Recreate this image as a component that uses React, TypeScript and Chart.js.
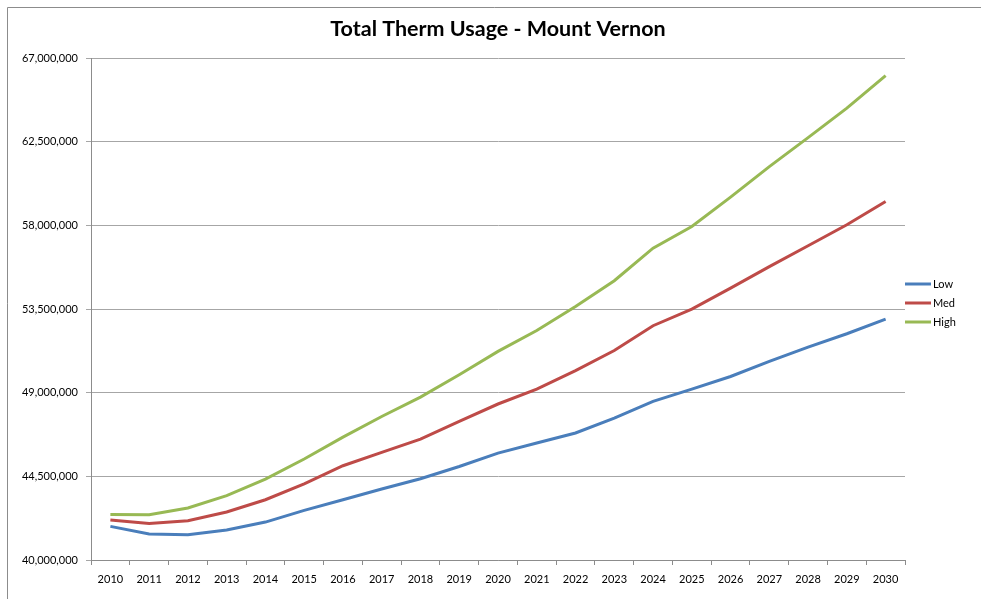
import React, { useEffect, useRef } from "react";
import { Chart, registerables } from "chart.js";

Chart.register(...registerables);

const years = [
  "2010", "2011", "2012", "2013", "2014", "2015", "2016", "2017", "2018", "2019", "2020",
  "2021", "2022", "2023", "2024", "2025", "2026", "2027", "2028", "2029", "2030",
];

const lowValues = [
  41810000, 41400000, 41360000, 41610000, 42040000, 42670000, 43240000, 43820000, 44370000,
  45030000, 45750000, 46290000, 46830000, 47630000, 48530000, 49190000, 49870000, 50680000,
  51450000, 52170000, 52960000,
];
const medValues = [
  42150000, 41970000, 42110000, 42580000, 43240000, 44100000, 45070000, 45790000, 46500000,
  47450000, 48390000, 49190000, 50190000, 51270000, 52600000, 53490000, 54620000, 55780000,
  56900000, 58030000, 59280000,
];
const highValues = [
  42450000, 42440000, 42800000, 43460000, 44350000, 45430000, 46610000, 47720000, 48760000,
  49960000, 51220000, 52340000, 53630000, 55020000, 56770000, 57940000, 59520000, 61160000,
  62720000, 64300000, 66050000,
];

const seriesNames = ["Low", "Med", "High"];
const seriesColors = ["#4a7ebb", "#be4b48", "#98b954"];
const chartTitle = "Total Therm Usage - Mount Vernon";

const yMin = 40000000;
const yMax = 67000000;
const yStep = 4500000;

const FONT = "Lato, 'Open Sans', sans-serif";

const frameTitleLegend = {
  id: "frameTitleLegend",
  beforeDraw(chart: any) {
    const ctx = chart.ctx;
    ctx.save();
    ctx.strokeStyle = "#8c8c8c";
    ctx.lineWidth = 1;
    ctx.beginPath();
    ctx.moveTo(7.5, chart.height);
    ctx.lineTo(7.5, 7.5);
    ctx.lineTo(chart.width, 7.5);
    ctx.stroke();
    ctx.restore();
  },
  afterDraw(chart: any) {
    const ctx = chart.ctx;
    const area = chart.chartArea;
    ctx.save();
    // title
    ctx.font = `bold 21.5px ${FONT}`;
    ctx.fillStyle = "#000";
    ctx.textAlign = "center";
    ctx.textBaseline = "middle";
    ctx.fillText(chartTitle, 498, 29);
    // legend
    ctx.font = `11px ${FONT}`;
    ctx.textAlign = "left";
    const x0 = area.right;
    const yStart = 284;
    chart.data.datasets.forEach((ds: any, i: number) => {
      const y = yStart + i * 19;
      ctx.strokeStyle = ds.borderColor;
      ctx.lineWidth = 3;
      ctx.beginPath();
      ctx.moveTo(x0, y);
      ctx.lineTo(x0 + 26, y);
      ctx.stroke();
      ctx.fillStyle = "#000";
      ctx.fillText(ds.label, x0 + 28, y + 0.5);
    });
    ctx.restore();
  },
};

export default function App() {
  const canvasRef = useRef<HTMLCanvasElement | null>(null);

  useEffect(() => {
    if (!canvasRef.current) return;
    const values = [lowValues, medValues, highValues];
    const chart = new Chart(canvasRef.current, {
      type: "line",
      data: {
        labels: years,
        datasets: values.map((v, i) => ({
          label: seriesNames[i],
          data: v,
          borderColor: seriesColors[i],
          backgroundColor: seriesColors[i],
          borderWidth: 3,
          pointRadius: 0,
          tension: 0,
          fill: false,
        })),
      },
      options: {
        animation: false,
        responsive: false,
        maintainAspectRatio: false,
        layout: { padding: { left: 0, right: 76, top: 58, bottom: 0 } },
        plugins: {
          legend: { display: false },
          tooltip: { enabled: false },
          title: { display: false },
        },
        scales: {
          x: {
            type: "category",
            offset: true,
            grid: {
              offset: true,
              drawOnChartArea: false,
              drawTicks: true,
              tickLength: 5,
              color: "#8c8c8c",
            },
            border: { color: "#8c8c8c", width: 1 },
            ticks: {
              color: "#000",
              font: { family: FONT, size: 11 },
              padding: 8,
              maxRotation: 0,
              autoSkip: false,
            },
            afterFit(scale: any) {
              scale.height = 39;
            },
          },
          y: {
            min: yMin,
            max: yMax,
            grid: {
              color: "#a6a6a6",
              tickLength: 5,
              drawTicks: true,
            },
            border: { color: "#8c8c8c", width: 1 },
            ticks: {
              stepSize: yStep,
              color: "#000",
              font: { family: FONT, size: 11 },
              padding: 8,
              callback: (v: any) => Number(v).toLocaleString("en-US"),
            },
            afterFit(scale: any) {
              scale.width = 91;
            },
          },
        },
      },
      plugins: [frameTitleLegend],
    });
    return () => chart.destroy();
  }, []);

  return (
    <div style={{ position: "absolute", left: 0, top: 0, width: 981, height: 599, background: "#fff" }}>
      <canvas ref={canvasRef} width={981} height={599} style={{ display: "block", width: 981, height: 599 }} />
    </div>
  );
}
